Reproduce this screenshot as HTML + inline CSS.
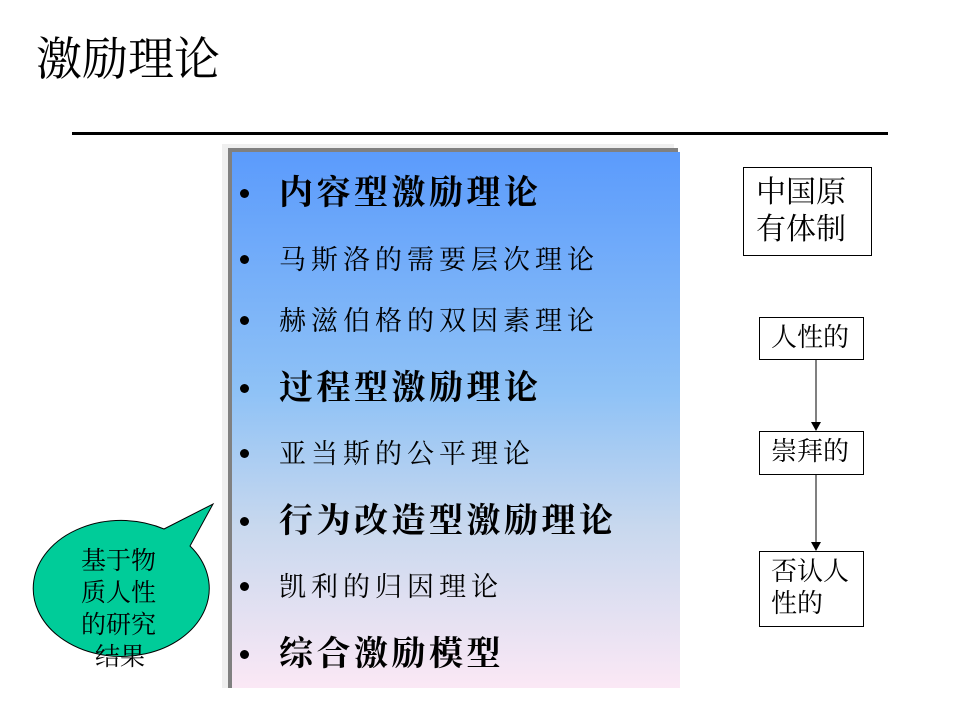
<!DOCTYPE html>
<html><head><meta charset="utf-8"><style>
body{margin:0;width:960px;height:720px;background:#fff;position:relative;overflow:hidden;font-family:"Liberation Sans","Noto Sans CJK SC",sans-serif}
.a{position:absolute}
.t{font-family:"Liberation Serif","Noto Serif CJK SC","Noto Sans CJK SC",serif}
.panel{left:232px;top:152px;width:448px;height:536px;background:linear-gradient(#5b9bfc,#8fc2f6 45%,#c8d8ee 70%,#fbe8f5);}
.it{position:absolute;left:240px;white-space:nowrap;color:#000}
.dot{display:inline-block;width:9px;height:9px;border-radius:50%;background:#000;vertical-align:middle;margin-right:30px;position:relative;top:-3px}
.bx{position:absolute;border:1.5px solid #000;background:#fff;font-size:26px;line-height:32px;box-sizing:border-box}
.B{font-size:34px;line-height:48px;font-weight:bold;letter-spacing:3.5px}
.N{font-size:27px;line-height:40px;letter-spacing:5px}
</style></head><body>
<div class="a t" style="left:36px;top:30px;font-size:46px;line-height:60px">激励理论</div>
<div class="a" style="left:72px;top:132px;width:816px;height:3px;background:#000"></div>
<div class="a" style="left:222px;top:144px;width:452px;height:544px;background:#efefef"></div>
<div class="a" style="left:228px;top:148px;width:450px;height:540px;background:#808080"></div>
<div class="a panel"></div>
<div class="it t B" style="top:170px"><span class="dot"></span>内容型激励理论</div>
<div class="it t N" style="top:240px"><span class="dot"></span>马斯洛的需要层次理论</div>
<div class="it t N" style="top:301px"><span class="dot"></span>赫滋伯格的双因素理论</div>
<div class="it t B" style="top:365px"><span class="dot"></span>过程型激励理论</div>
<div class="it t N" style="top:434px"><span class="dot"></span>亚当斯的公平理论</div>
<div class="it t B" style="top:498px"><span class="dot"></span>行为改造型激励理论</div>
<div class="it t N" style="top:567px"><span class="dot"></span>凯利的归因理论</div>
<div class="it t B" style="top:631px"><span class="dot"></span>综合激励模型</div>

<div class="bx t" style="left:743px;top:167px;width:129px;height:89px;padding:6px 0 0 12px;font-size:30px;line-height:37px">中国原<br>有体制</div>
<div class="bx t" style="left:759px;top:317px;width:105px;height:43px;padding:4px 0 0 11px">人性的</div>
<div class="bx t" style="left:759px;top:431px;width:105px;height:44px;padding:4px 0 0 11px">崇拜的</div>
<div class="bx t" style="left:759px;top:551px;width:105px;height:76px;padding:4px 0 0 11px">否认人<br>性的</div>
<svg class="a" style="left:0;top:0" width="960" height="720">
<g stroke="#808080" stroke-width="2"><line x1="816" y1="360" x2="816" y2="424"/><line x1="816" y1="475" x2="816" y2="544"/></g>
<polygon points="811,422 821,422 816,431" fill="#000"/>
<polygon points="811,542 821,542 816,551" fill="#000"/>
<path d="M164,529 L213,504 L190,546 A88,68 0 1 1 164,529 Z" fill="#00cc99" stroke="#000" stroke-width="1"/>
</svg>
<div class="a t" style="left:81px;top:546px;font-size:25px;line-height:32px;width:90px">基于物<br>质人性<br>的研究<br><span style="margin-left:14px">结果</span></div>
</body></html>
